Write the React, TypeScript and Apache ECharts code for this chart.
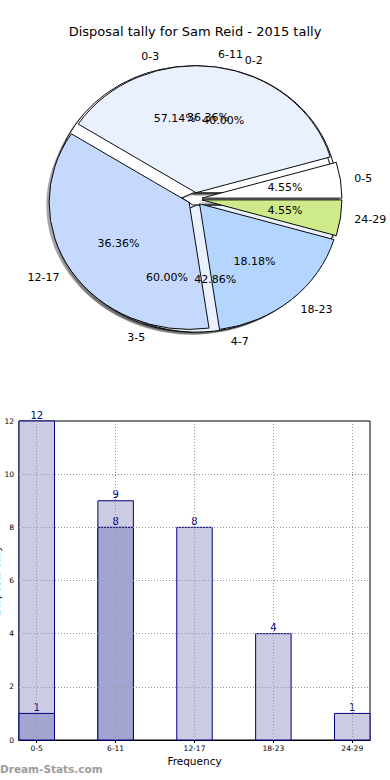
import React, { useEffect, useRef } from "react";
import * as echarts from "echarts";

const TITLE = "Disposal tally for Sam Reid - 2015 tally";
const FONT = "DejaVu Sans";

// Pie layers (drawn bottom to top: inner, mid, outer)
const outerLabels = ["0-5", "6-11", "12-17", "18-23", "24-29"];
const outerValues = [1, 8, 8, 4, 1];
const outerColors = ["#ffffff", "#e9f0fe", "#c5d8fd", "#b4d5ff", "#ceea8a"];

const midLabels = ["0-3", "4-7"];
const midValues = [4, 3];
const midColors = ["#ffffff", "#e9f0fe"];

const innerLabels = ["0-2", "3-5"];
const innerValues = [2, 3];
const innerColors = ["#ffffff", "#e9f0fe"];

// Bar chart
const barCategories = ["0-5", "6-11", "12-17", "18-23", "24-29"];
const barTotals = [12, 9, 8, 4, 1];
const barHighlights: (number | null)[] = [1, 8, null, null, null];
const yTicks = [0, 2, 4, 6, 8, 10, 12];
const xTickIdx = barCategories.map((_, i) => i);

// Layout
const CX = 195;
const CY = 199;
const RX = 140;
const RY = 127;
const EXPLODE = 0.05;
const LABEL_DIST = 1.1;
const PCT_DIST = 0.6;
const SHADOW_DX = -2.8;
const SHADOW_DY = 2.5;
const BAR_WIDTH = 0.45; // in category units
const X_MIN = -0.225;
const X_MAX = 4.225;

function geom(values: number[], i: number) {
  const total = values.reduce((a, b) => a + b, 0);
  let start = 0;
  for (let k = 0; k < i; k++) start += values[k];
  const a1 = (start / total) * Math.PI * 2;
  const a2 = ((start + values[i]) / total) * Math.PI * 2;
  const mid = (a1 + a2) / 2;
  return {
    a1,
    a2,
    mid,
    total,
    ox: CX + EXPLODE * RX * Math.cos(mid),
    oy: CY - EXPLODE * RY * Math.sin(mid),
  };
}

function pieSeries(labels: string[], values: number[], colors: string[], z: number) {
  const data = values.map((v, i) => [i, v]);
  const ratio = RY / RX;
  const sector = (g: any, style: any) => ({
    type: "sector",
    shape: { cx: 0, cy: 0, r0: 0, r: RX, startAngle: -g.a2, endAngle: -g.a1, clockwise: true },
    style,
  });
  const shadow = {
    type: "custom",
    coordinateSystem: "none",
    silent: true,
    z: 1,
    data,
    renderItem: (params: any, api: any) => {
      const g = geom(values, api.value(0));
      return {
        type: "group",
        x: g.ox + SHADOW_DX,
        y: g.oy + SHADOW_DY,
        scaleY: ratio,
        children: [sector(g, { fill: "rgba(77,77,77,0.5)" })],
      };
    },
  };
  const wedges = {
    type: "custom",
    coordinateSystem: "none",
    silent: true,
    z,
    data,
    renderItem: (params: any, api: any) => {
      const i = api.value(0);
      const g = geom(values, i);
      return {
        type: "group",
        x: g.ox,
        y: g.oy,
        scaleY: ratio,
        children: [sector(g, { fill: colors[i], stroke: "#000", lineWidth: 1 })],
      };
    },
  };
  const texts = {
    type: "custom",
    coordinateSystem: "none",
    silent: true,
    z: 10,
    data,
    renderItem: (params: any, api: any) => {
      const i = api.value(0);
      const v = api.value(1);
      const g = geom(values, i);
      const c = Math.cos(g.mid);
      const s = Math.sin(g.mid);
      const lx = g.ox + LABEL_DIST * RX * c;
      const ly = g.oy - LABEL_DIST * RY * s;
      const px = g.ox + PCT_DIST * RX * c;
      const py = g.oy - PCT_DIST * RY * s;
      const ha = c > 0 ? "left" : "right";
      return {
        type: "group",
        children: [
          {
            type: "text",
            x: lx,
            y: ly,
            style: {
              text: labels[i],
              fill: "#000",
              font: `11px ${FONT}`,
              align: ha,
              verticalAlign: "middle",
              textAlign: ha,
              textVerticalAlign: "middle",
            },
          },
          {
            type: "text",
            x: px,
            y: py,
            style: {
              text: ((v / g.total) * 100).toFixed(2) + "%",
              fill: "#000",
              font: `11px ${FONT}`,
              align: "center",
              verticalAlign: "middle",
              textAlign: "center",
              textVerticalAlign: "middle",
            },
          },
        ],
      };
    },
  };
  return [shadow, wedges, texts];
}

function barSeries(values: (number | null)[], fill: string, z: number) {
  return {
    type: "custom",
    coordinateSystem: "cartesian2d",
    xAxisIndex: 0,
    yAxisIndex: 0,
    silent: true,
    clip: false,
    z,
    encode: { x: 0, y: 1 },
    data: values.map((v, i) => [i, v]).filter((d) => d[1] !== null),
    renderItem: (params: any, api: any) => {
      const x = api.value(0);
      const v = api.value(1);
      const top = api.coord([x, v]);
      const base = api.coord([x, 0]);
      const w = api.size([BAR_WIDTH, 0])[0];
      return {
        type: "group",
        children: [
          {
            type: "rect",
            shape: { x: top[0] - w / 2, y: top[1], width: w, height: base[1] - top[1] },
            style: { fill, stroke: "#000080", lineWidth: 1 },
          },
          {
            type: "text",
            x: top[0],
            y: top[1] - 1,
            style: {
              text: String(v),
              fill: "#000080",
              font: `10px ${FONT}`,
              align: "center",
              verticalAlign: "bottom",
              textAlign: "center",
              textVerticalAlign: "bottom",
            },
          },
        ],
      };
    },
  };
}

const gridLineStyle = { type: [1, 2], color: "#9a9a9a", width: 1 };

const App = () => {
  const ref = useRef<HTMLDivElement>(null);
  useEffect(() => {
    document.body.style.margin = "0";
    const chart = echarts.init(ref.current!, null, { renderer: "svg" });
    const option: any = {
      animation: false,
      backgroundColor: "#ffffff",
      title: {
        text: TITLE,
        left: "center",
        top: 20,
        textStyle: { fontFamily: FONT, fontSize: 13, fontWeight: "normal", color: "#000" },
      },
      graphic: [
        {
          type: "text",
          left: 0,
          top: 763,
          style: { text: "Dream-Stats.com", fill: "#9c9c9c", font: `bold 10.5px ${FONT}` },
        },
      ],
      grid: {
        left: 19,
        right: 20,
        top: 421,
        bottom: 40,
        containLabel: false,
        outerBoundsMode: "none",
        show: true,
        borderColor: "#000",
        borderWidth: 1,
        backgroundColor: "transparent",
      },
      xAxis: [
        {
          type: "value",
          min: X_MIN,
          max: X_MAX,
          position: "bottom",
          axisLine: { show: true, lineStyle: { color: "#000" } },
          axisTick: { show: true, inside: true, length: 3, customValues: xTickIdx, lineStyle: { color: "#000" } },
          axisLabel: {
            customValues: xTickIdx,
            formatter: (v: number) => barCategories[Math.round(v)] ?? "",
            fontFamily: FONT,
            fontSize: 7.5,
            color: "#000",
            margin: 4,
          },
          splitLine: { show: false },
          name: "Frequency",
          nameLocation: "middle",
          nameGap: 15,
          nameMoveOverlap: false,
          nameTextStyle: { fontFamily: FONT, fontSize: 10.5, color: "#000" },
        },
        {
          type: "value",
          min: X_MIN,
          max: X_MAX,
          position: "top",
          axisLine: { show: true, lineStyle: { color: "#000" } },
          axisTick: { show: true, inside: true, length: 3, customValues: xTickIdx, lineStyle: { color: "#000" } },
          axisLabel: { show: false },
          splitLine: { show: false },
        },
      ],
      yAxis: [
        {
          type: "value",
          min: yTicks[0],
          max: yTicks[yTicks.length - 1],
          interval: 2,
          position: "left",
          axisLine: { show: true, lineStyle: { color: "#000" } },
          axisTick: { show: true, inside: true, length: 3, lineStyle: { color: "#000" } },
          axisLabel: { fontFamily: FONT, fontSize: 7.5, color: "#000", margin: 5 },
          splitLine: { show: false },
          name: "Disposal tally",
          nameLocation: "middle",
          nameGap: 18,
          nameMoveOverlap: false,
          nameTextStyle: { fontFamily: FONT, fontSize: 10.5, color: "#000" },
        },
        {
          type: "value",
          min: yTicks[0],
          max: yTicks[yTicks.length - 1],
          interval: 2,
          position: "right",
          axisLine: { show: true, lineStyle: { color: "#000" } },
          axisTick: { show: true, inside: true, length: 3, lineStyle: { color: "#000" } },
          axisLabel: { show: false },
          splitLine: { show: false },
        },
      ],
      series: [
        ...pieSeries(innerLabels, innerValues, innerColors, 2),
        ...pieSeries(midLabels, midValues, midColors, 3),
        ...pieSeries(outerLabels, outerValues, outerColors, 4),
        barSeries(barTotals, "#cbcbe4", 2),
        barSeries(barHighlights, "#a3a4d0", 3),
        {
          type: "line",
          name: "grid",
          xAxisIndex: 0,
          yAxisIndex: 0,
          data: [],
          silent: true,
          markLine: {
            silent: true,
            symbol: ["none", "none"],
            label: { show: false },
            lineStyle: gridLineStyle,
            emphasis: { disabled: true },
            data: [
              ...xTickIdx.map((i) => ({ xAxis: i })),
              ...yTicks.slice(1, -1).map((t) => ({ yAxis: t })),
            ],
          },
        },
      ],
    };
    chart.setOption(option);
    return () => chart.dispose();
  }, []);
  return <div ref={ref} style={{ width: 390, height: 780 }} />;
};

export default App;
